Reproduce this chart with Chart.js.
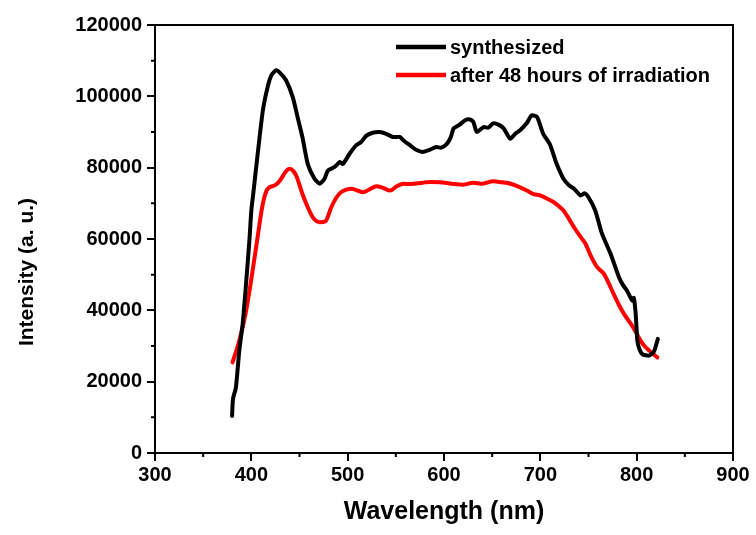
<!DOCTYPE html>
<html>
<head>
<meta charset="utf-8">
<script src="https://cdn.jsdelivr.net/npm/chart.js@4.4.1/dist/chart.umd.min.js"></script>
<style>
  body { margin: 0; background: #fff; }
</style>
</head>
<body>
<canvas id="spectrum" width="756" height="535"></canvas>
<script>
// wavelength (nm) and intensity
const synthWl = [380, 381, 384, 387.5, 391, 394.5, 398, 400, 402, 406.6, 412, 417, 421, 425.7, 430, 436, 443, 448, 453, 458.6, 465.6, 471, 476, 479.5, 486.5, 492, 495, 502, 509, 514, 519.5, 526, 533, 540, 547, 554, 559, 564.6, 571, 578, 585, 592, 597, 603, 607, 610, 616, 622, 627, 630.5, 634, 641, 646, 651, 657, 662, 668.75, 674, 679, 686, 691, 696.6, 703, 710, 717, 724, 730, 735, 741.7, 746, 750, 757, 764, 773, 781.6, 786, 790, 795.5, 797, 799, 800.7, 803, 806, 813, 818, 822];
const synthI = [10400, 15200, 18400, 28700, 36200, 47400, 59600, 68000, 72700, 83900, 96100, 102700, 106000, 107300, 106500, 104500, 99800, 94200, 88600, 81000, 76900, 75500, 76900, 79200, 80200, 81600, 81000, 83900, 86300, 87200, 89000, 89800, 90000, 89500, 88600, 88600, 87400, 86300, 85000, 84400, 85000, 85800, 85600, 86700, 88500, 91000, 92000, 93300, 93500, 92800, 90000, 91400, 91200, 92400, 92000, 91000, 88100, 89500, 90500, 92500, 94700, 94200, 89500, 86500, 81000, 76900, 75000, 74100, 72200, 72800, 71700, 68000, 61500, 55800, 49300, 47000, 45500, 42700, 43500, 39000, 31500, 29000, 27700, 27300, 28500, 32000];

const irrWl = [380.5, 387.5, 394, 399, 406, 408, 411, 413.5, 417, 424, 428, 431, 436, 439.6, 443, 446.5, 453, 458.6, 464, 471, 477, 483, 488, 493, 498, 504, 510, 516, 522, 530, 537, 544, 551, 558, 565, 578, 586, 596, 608, 620, 630.5, 640, 651, 660, 669, 679, 686, 693, 700, 707, 714, 720, 724, 730, 735, 742, 747, 752, 759, 766, 773, 778, 783, 788, 794, 799, 804, 808, 813, 817, 821.5];
const irrI = [25400, 31500, 39000, 47000, 59600, 63300, 68500, 71700, 74100, 75000, 75800, 76900, 79000, 79700, 79200, 77800, 72700, 68900, 66000, 64700, 65000, 68900, 71500, 73100, 73800, 74100, 73600, 73100, 73800, 74800, 74300, 73600, 74800, 75500, 75400, 75800, 76000, 75900, 75500, 75200, 75800, 75500, 76200, 75900, 75500, 74500, 73600, 72600, 72200, 71300, 70300, 69000, 68000, 65500, 63300, 60500, 58600, 55500, 52100, 50200, 46400, 43500, 40800, 38500, 36200, 34000, 31500, 30000, 28700, 27800, 26800];

const seriesNames = ['synthesized', 'after 48 hours of irradiation'];
const seriesColors = ['#000000', '#ff0000'];

const FONT = '"Liberation Sans", Arial, sans-serif';

const toPoints = (xs, ys) => xs.map((x, i) => ({ x: x, y: ys[i] }));

// minor ticks, top/right frame, rotated y title and the inset legend
const extras = {
  id: 'extras',
  afterDraw(chart) {
    const ctx = chart.ctx;
    const area = chart.chartArea;
    const xs = chart.scales.x;
    const ys = chart.scales.y;
    ctx.save();
    ctx.strokeStyle = '#000';
    ctx.lineWidth = 2;

    // frame
    ctx.beginPath();
    ctx.moveTo(area.left, area.top);
    ctx.lineTo(area.right, area.top);
    ctx.lineTo(area.right, area.bottom);
    ctx.stroke();

    // minor ticks
    ctx.beginPath();
    for (let v = 350; v < 900; v += 100) {
      const px = xs.getPixelForValue(v);
      ctx.moveTo(px, area.bottom);
      ctx.lineTo(px, area.bottom + 4);
    }
    for (let v = 10000; v < 120000; v += 20000) {
      const py = ys.getPixelForValue(v);
      ctx.moveTo(area.left, py);
      ctx.lineTo(area.left - 4, py);
    }
    ctx.stroke();

    // y title
    ctx.fillStyle = '#000';
    ctx.font = 'bold 21px ' + FONT;
    ctx.textAlign = 'center';
    ctx.textBaseline = 'middle';
    ctx.translate(27, 272);
    ctx.rotate(-Math.PI / 2);
    ctx.fillText('Intensity (a. u.)', 0, 0);
    ctx.restore();

    // legend
    ctx.save();
    ctx.font = 'bold 20px ' + FONT;
    ctx.textBaseline = 'middle';
    ctx.lineWidth = 4.5;
    chart.data.datasets.forEach((ds, i) => {
      const y = 47 + i * 28;
      ctx.strokeStyle = ds.borderColor;
      ctx.beginPath();
      ctx.moveTo(396, y);
      ctx.lineTo(446, y);
      ctx.stroke();
      ctx.fillStyle = '#000';
      ctx.fillText(ds.label, 450, y + 1);
    });
    ctx.restore();
  }
};

new Chart(document.getElementById('spectrum'), {
  type: 'line',
  data: {
    datasets: [
      {
        label: seriesNames[0],
        data: toPoints(synthWl, synthI),
        borderColor: seriesColors[0],
        borderWidth: 4,
        pointRadius: 0,
        tension: 0.2,
        borderJoinStyle: 'round',
        borderCapStyle: 'round'
      },
      {
        label: seriesNames[1],
        data: toPoints(irrWl, irrI),
        borderColor: seriesColors[1],
        borderWidth: 4,
        pointRadius: 0,
        cubicInterpolationMode: 'monotone',
        borderJoinStyle: 'round',
        borderCapStyle: 'round'
      }
    ]
  },
  options: {
    responsive: false,
    animation: false,
    layout: { padding: { top: 25, right: 23, left: 0, bottom: 0 } },
    plugins: {
      legend: { display: false },
      tooltip: { enabled: false }
    },
    scales: {
      x: {
        type: 'linear',
        min: 300,
        max: 900,
        afterFit: (s) => { s.height = 82; },
        border: { color: '#000', width: 2 },
        grid: { drawOnChartArea: false, color: '#000', lineWidth: 2, tickLength: 8 },
        ticks: {
          stepSize: 100,
          color: '#000',
          padding: 2,
          font: { family: FONT, size: 20, weight: 'bold' },
          callback: (v) => String(v)
        },
        title: {
          display: true,
          text: 'Wavelength (nm)',
          color: '#000',
          font: { family: FONT, size: 25, weight: 'bold' },
          padding: { top: 0, bottom: 8 }
        }
      },
      y: {
        min: 0,
        max: 120000,
        afterFit: (s) => { s.width = 155; },
        border: { color: '#000', width: 2 },
        grid: { drawOnChartArea: false, color: '#000', lineWidth: 2, tickLength: 8 },
        ticks: {
          stepSize: 20000,
          color: '#000',
          padding: 5,
          font: { family: FONT, size: 20, weight: 'bold' },
          callback: (v) => String(v)
        }
      }
    }
  },
  plugins: [extras]
});
</script>
</body>
</html>
